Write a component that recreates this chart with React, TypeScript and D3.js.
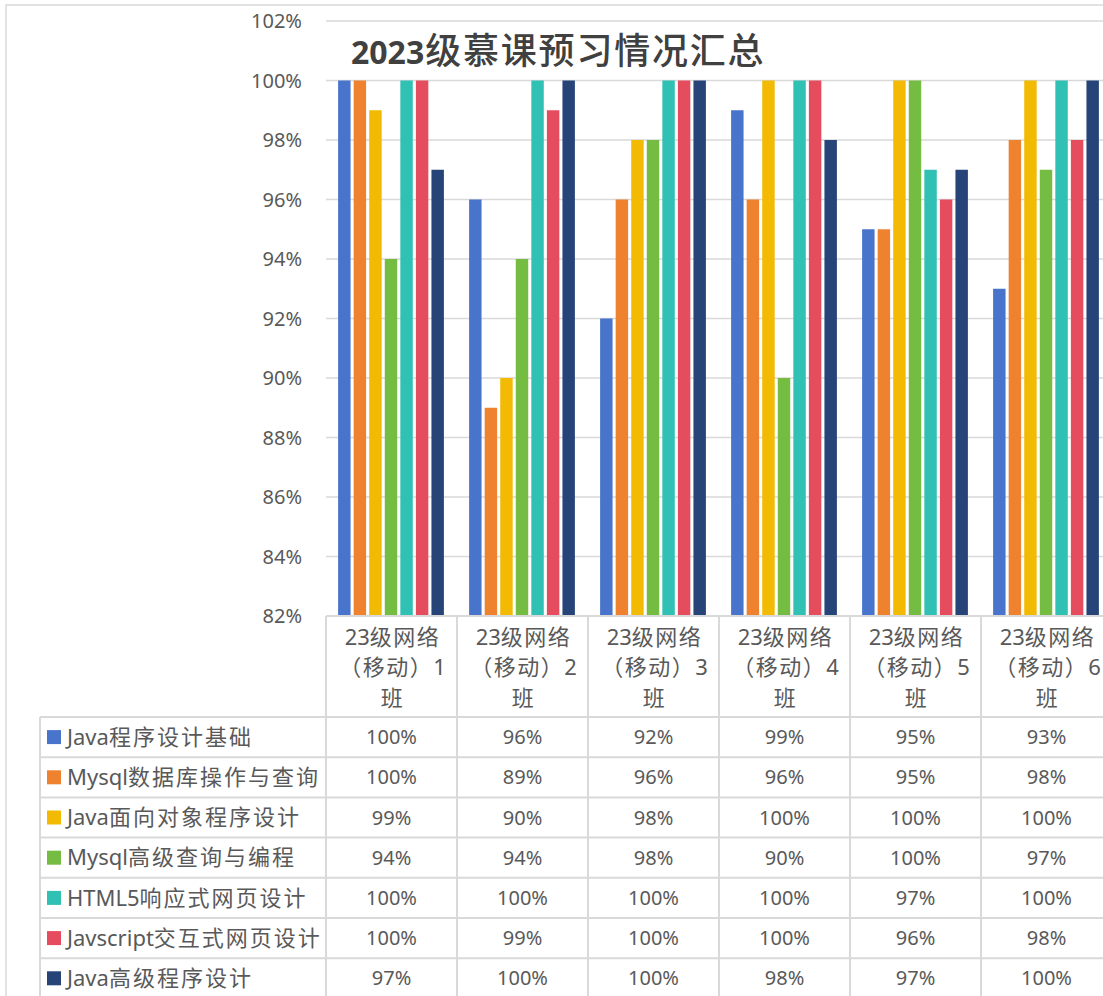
import React from "react";
import * as d3 from "d3";

const classes = [
  "23级网络（移动）1班",
  "23级网络（移动）2班",
  "23级网络（移动）3班",
  "23级网络（移动）4班",
  "23级网络（移动）5班",
  "23级网络（移动）6班",
];
const classLines = [
  ["23级网络", "（移动）1", "班"],
  ["23级网络", "（移动）2", "班"],
  ["23级网络", "（移动）3", "班"],
  ["23级网络", "（移动）4", "班"],
  ["23级网络", "（移动）5", "班"],
  ["23级网络", "（移动）6", "班"],
];
const seriesNames = [
  "Java程序设计基础",
  "Mysql数据库操作与查询",
  "Java面向对象程序设计",
  "Mysql高级查询与编程",
  "HTML5响应式网页设计",
  "Javscript交互式网页设计",
  "Java高级程序设计",
];
const javaBasic = [1.0, 0.96, 0.92, 0.99, 0.95, 0.93];
const mysqlOps = [1.0, 0.89, 0.96, 0.96, 0.95, 0.98];
const javaOO = [0.99, 0.9, 0.98, 1.0, 1.0, 1.0];
const mysqlAdv = [0.94, 0.94, 0.98, 0.9, 1.0, 0.97];
const html5 = [1.0, 1.0, 1.0, 1.0, 0.97, 1.0];
const jsWeb = [1.0, 0.99, 1.0, 1.0, 0.96, 0.98];
const javaAdv = [0.97, 1.0, 1.0, 0.98, 0.97, 1.0];
const seriesValues = [javaBasic, mysqlOps, javaOO, mysqlAdv, html5, jsWeb, javaAdv];
const colors = ["#4874CB", "#EE822F", "#F2BA02", "#75BD42", "#30C0B4", "#E54C5E", "#264478"];
const yTicks = [0.82, 0.84, 0.86, 0.88, 0.9, 0.92, 0.94, 0.96, 0.98, 1.0, 1.02];
const title = "2023级慕课预习情况汇总";

const FONT = "'Noto Sans', 'Noto Sans CJK SC', sans-serif";
const GRID = "#d9d9d9";
const TXT = "#595959";

const isCJK = (ch: string) => /[\u3000-\u9fff\uff00-\uffef]/.test(ch);

function runs(s: string): { t: string; cjk: boolean }[] {
  const out: { t: string; cjk: boolean }[] = [];
  for (const ch of s) {
    const c = isCJK(ch);
    if (out.length && out[out.length - 1].cjk === c) out[out.length - 1].t += ch;
    else out.push({ t: ch, cjk: c });
  }
  return out;
}

function Spaced({ s, sp }: { s: string; sp: number }) {
  return (
    <>
      {runs(s).map((r, i) => (
        <tspan key={i} letterSpacing={r.cjk ? sp : 0}>
          {r.t}
        </tspan>
      ))}
    </>
  );
}

export default function App() {
  const plotLeft = 326;
  const colW = 131;
  const x = d3.scaleBand<string>().domain(classes).range([plotLeft, plotLeft + colW * classes.length]).padding(0);
  const xi = d3.scaleBand<string>().domain(seriesNames).range([9, 121]).padding(0.2);
  const y = d3.scaleLinear().domain([0.82, 1.02]).range([616, 21]);
  const fmt = d3.format(".0%");

  const tableTop = 717;
  const rowH = 40.2;
  const tableLeft = 40;
  const bottom = 1000;
  const right = 1103;

  return (
    <svg width={1103} height={996} style={{ position: "absolute", left: 0, top: 0, background: "#fff" }} fontFamily={FONT}>
      <rect x={6} y={5} width={1200} height={1200} fill="#fff" stroke={GRID} strokeWidth={1.5} />
      {/* grid */}
      {yTicks.map((t) => (
        <g key={t}>
          <line x1={plotLeft} x2={right + 20} y1={y(t)} y2={y(t)} stroke={GRID} strokeWidth={1.5} />
          <text x={302} y={y(t)} dy="0.35em" textAnchor="end" fontSize={20} fill={TXT}>
            {fmt(t)}
          </text>
        </g>
      ))}
      {/* bars */}
      {seriesValues.map((vals, si) =>
        vals.map((v, ci) => (
          <rect
            key={`${si}-${ci}`}
            x={(x(classes[ci]) as number) + (xi(seriesNames[si]) as number)}
            y={y(v)}
            width={xi.bandwidth()}
            height={y(0.82) - y(v)}
            fill={colors[si]}
          />
        ))
      )}
      {/* title */}
      <text x={351} y={64} fill="#404040">
        {runs(title).map((r, i) => (
          <tspan
            key={i}
            fontSize={r.cjk ? 36 : 32}
            fontWeight={r.cjk ? 500 : "bold"}
            letterSpacing={r.cjk ? 1.8 : 0}
            dx={r.cjk ? 1 : 0}
          >
            {r.t}
          </tspan>
        ))}
      </text>
      {/* table vertical lines */}
      {classes.map((c) => (
        <line key={c} x1={x(c)} x2={x(c)} y1={616} y2={bottom} stroke={GRID} strokeWidth={2} />
      ))}
      <line x1={plotLeft + colW * 6} x2={plotLeft + colW * 6} y1={616} y2={bottom} stroke={GRID} strokeWidth={2} />
      <line x1={tableLeft} x2={tableLeft} y1={tableTop} y2={bottom} stroke={GRID} strokeWidth={2} />
      {/* axis line */}
      <line x1={plotLeft} x2={right + 20} y1={616} y2={616} stroke={GRID} strokeWidth={2} />
      {/* row lines */}
      {seriesNames.map((s, i) => (
        <line key={s} x1={tableLeft} x2={right + 20} y1={tableTop + i * rowH} y2={tableTop + i * rowH} stroke={GRID} strokeWidth={2} />
      ))}
      {/* category labels */}
      {classLines.map((lines, ci) => (
        <g key={ci}>
          {lines.map((l, li) => (
            <text
              key={li}
              x={(x(classes[ci]) as number) + colW / 2 + 1}
              y={637 + li * 30.5}
              dy="0.35em"
              textAnchor="middle"
              fontSize={22}
              fill={TXT}
            >
              <Spaced s={l} sp={1.5} />
            </text>
          ))}
        </g>
      ))}
      {/* legend + values */}
      {seriesNames.map((s, si) => {
        const cy = tableTop + si * rowH + rowH / 2;
        return (
          <g key={s}>
            <rect x={47} y={cy - 7} width={14} height={14} fill={colors[si]} />
            <text x={67} y={cy} dy="0.35em" fontSize={22} fill={TXT}>
              <Spaced s={s} sp={2} />
            </text>
            {seriesValues[si].map((v, ci) => (
              <text key={ci} x={(x(classes[ci]) as number) + colW / 2} y={cy} dy="0.35em" textAnchor="middle" fontSize={20} fill={TXT}>
                {fmt(v)}
              </text>
            ))}
          </g>
        );
      })}
    </svg>
  );
}
